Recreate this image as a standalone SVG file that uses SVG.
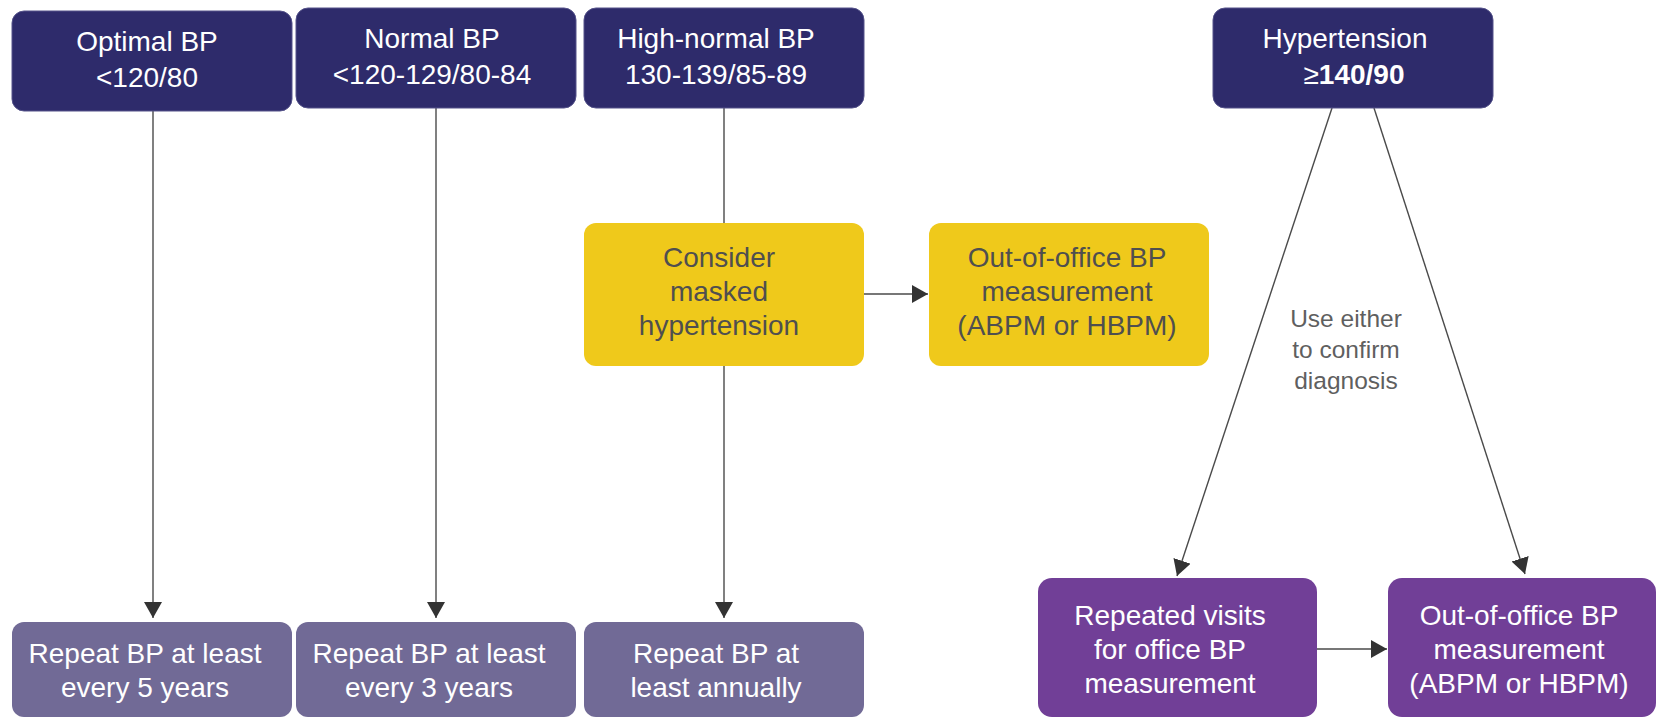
<svg xmlns="http://www.w3.org/2000/svg" width="1658" height="717" viewBox="0 0 1658 717">
<defs>
<style>
.t{font-family:"Liberation Sans",Arial,sans-serif;font-size:28px;text-anchor:middle}
.w{fill:#ffffff}
.g{fill:#4f4f4f}
.navy{fill:#2e2b6b;stroke:#55538a;stroke-width:1}
.gray{fill:#716a96}
.yel{fill:#efc91b}
.pur{fill:#713f97}
.ln{stroke:#4a4a4a;stroke-width:1.4;fill:none}
.lbl{font-family:"Liberation Sans",Arial,sans-serif;font-size:24.5px;text-anchor:middle;fill:#5f5f5f}
</style>
<marker id="ah" markerUnits="userSpaceOnUse" markerWidth="17" markerHeight="19" refX="16" refY="9" orient="auto" viewBox="0 0 17 19">
<path d="M0,0 L16,9 L0,18 Z" fill="#333333"/>
</marker>
</defs>
<rect width="1658" height="717" fill="#ffffff"/>

<g id="connectors">
<line class="ln" x1="153" y1="111" x2="153" y2="618" marker-end="url(#ah)"/>
<line class="ln" x1="436" y1="108" x2="436" y2="618" marker-end="url(#ah)"/>
<line class="ln" x1="724" y1="108" x2="724" y2="223"/>
<line class="ln" x1="724" y1="366" x2="724" y2="618" marker-end="url(#ah)"/>
<line class="ln" x1="864" y1="294" x2="928" y2="294" marker-end="url(#ah)"/>
<line class="ln" x1="1332" y1="108" x2="1177" y2="576" marker-end="url(#ah)"/>
<line class="ln" x1="1374" y1="108" x2="1525" y2="574" marker-end="url(#ah)"/>
<line class="ln" x1="1317" y1="649" x2="1387" y2="649" marker-end="url(#ah)"/>
</g>

<g id="optimal">
<rect class="navy" x="12" y="11" width="280" height="100" rx="12"/>
<text class="t w" x="147" y="51">Optimal BP</text>
<text class="t w" x="147" y="87">&lt;120/80</text>
</g>
<g id="normal">
<rect class="navy" x="296" y="8" width="280" height="100" rx="12"/>
<text class="t w" x="432" y="48">Normal BP</text>
<text class="t w" x="432" y="84">&lt;120-129/80-84</text>
</g>
<g id="highnormal">
<rect class="navy" x="584" y="8" width="280" height="100" rx="12"/>
<text class="t w" x="716" y="48">High-normal BP</text>
<text class="t w" x="716" y="84">130-139/85-89</text>
</g>
<g id="hypertension">
<rect class="navy" x="1213" y="8" width="280" height="100" rx="12"/>
<text class="t w" x="1345" y="48">Hypertension</text>
<text class="t w" x="1354" y="84">≥<tspan font-weight="bold">140/90</tspan></text>
</g>

<g id="masked">
<rect class="yel" x="584" y="223" width="280" height="143" rx="12"/>
<text class="t g" x="719" y="267">Consider</text>
<text class="t g" x="719" y="301">masked</text>
<text class="t g" x="719" y="335">hypertension</text>
</g>
<g id="outoffice1">
<rect class="yel" x="929" y="223" width="280" height="143" rx="12"/>
<text class="t g" x="1067" y="267">Out-of-office BP</text>
<text class="t g" x="1067" y="301">measurement</text>
<text class="t g" x="1067" y="335">(ABPM or HBPM)</text>
</g>

<g id="label">
<text class="lbl" x="1346" y="327">Use either</text>
<text class="lbl" x="1346" y="358">to confirm</text>
<text class="lbl" x="1346" y="389">diagnosis</text>
</g>

<g id="repeat5">
<rect class="gray" x="12" y="622" width="280" height="95" rx="12"/>
<text class="t w" x="145" y="663">Repeat BP at least</text>
<text class="t w" x="145" y="697">every 5 years</text>
</g>
<g id="repeat3">
<rect class="gray" x="296" y="622" width="280" height="95" rx="12"/>
<text class="t w" x="429" y="663">Repeat BP at least</text>
<text class="t w" x="429" y="697">every 3 years</text>
</g>
<g id="repeat1">
<rect class="gray" x="584" y="622" width="280" height="95" rx="12"/>
<text class="t w" x="716" y="663">Repeat BP at</text>
<text class="t w" x="716" y="697">least annually</text>
</g>

<g id="visits">
<rect class="pur" x="1038" y="578" width="279" height="139" rx="14"/>
<text class="t w" x="1170" y="625">Repeated visits</text>
<text class="t w" x="1170" y="659">for office BP</text>
<text class="t w" x="1170" y="693">measurement</text>
</g>
<g id="outoffice2">
<rect class="pur" x="1388" y="578" width="268" height="139" rx="14"/>
<text class="t w" x="1519" y="625">Out-of-office BP</text>
<text class="t w" x="1519" y="659">measurement</text>
<text class="t w" x="1519" y="693">(ABPM or HBPM)</text>
</g>
</svg>
